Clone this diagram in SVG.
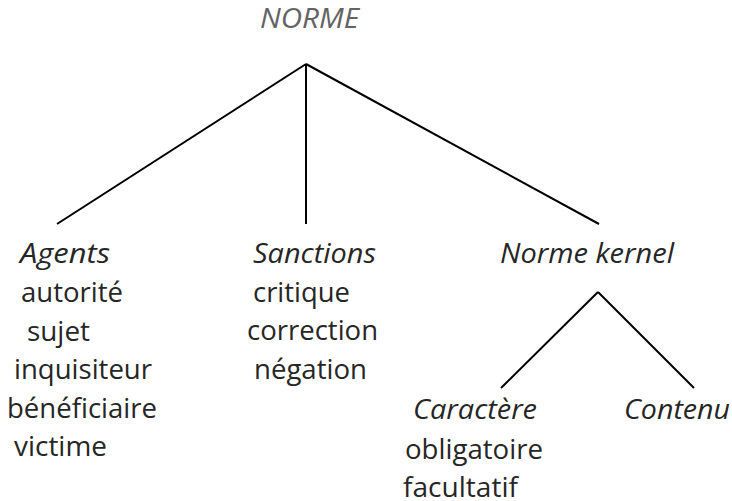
<svg xmlns="http://www.w3.org/2000/svg" width="732" height="501" viewBox="0 0 732 501">
<style>
text{font-family:"Open Sans","Noto Sans","Liberation Sans",sans-serif;font-size:28px;fill:#262626}
.it{font-style:italic}
.gray{fill:#636363}
.edge{stroke:#000;stroke-width:2;fill:none}
</style>
<rect width="732" height="501" fill="#fff"/>
<g id="connectors">
<line class="edge" x1="306" y1="64" x2="57" y2="224"/>
<line class="edge" x1="306" y1="64" x2="306" y2="224"/>
<line class="edge" x1="306" y1="64" x2="599" y2="224"/>
<line class="edge" x1="598" y1="292" x2="501" y2="388"/>
<line class="edge" x1="598" y1="292" x2="694" y2="388"/>
</g>
<g id="norme">
<text class="it gray" x="260" y="28" textLength="99" lengthAdjust="spacingAndGlyphs">NORME</text>
</g>
<g id="agents">
<text class="it" x="20" y="263" textLength="90" lengthAdjust="spacingAndGlyphs">Agents</text>
<text x="21" y="302" textLength="102" lengthAdjust="spacingAndGlyphs">autorité</text>
<text x="27" y="341" textLength="63" lengthAdjust="spacingAndGlyphs">sujet</text>
<text x="14" y="379" textLength="138" lengthAdjust="spacingAndGlyphs">inquisiteur</text>
<text x="7" y="418" textLength="150" lengthAdjust="spacingAndGlyphs">bénéficiaire</text>
<text x="14" y="456" textLength="93" lengthAdjust="spacingAndGlyphs">victime</text>
</g>
<g id="sanctions">
<text class="it" x="253" y="263" textLength="123" lengthAdjust="spacingAndGlyphs">Sanctions</text>
<text x="253" y="302" textLength="97" lengthAdjust="spacingAndGlyphs">critique</text>
<text x="247" y="340" textLength="131" lengthAdjust="spacingAndGlyphs">correction</text>
<text x="254" y="379" textLength="113" lengthAdjust="spacingAndGlyphs">négation</text>
</g>
<g id="norme-kernel">
<text class="it" x="500" y="263" textLength="174" lengthAdjust="spacingAndGlyphs">Norme kernel</text>
</g>
<g id="caractere">
<text class="it" x="413" y="419" textLength="124" lengthAdjust="spacingAndGlyphs">Caractère</text>
<text x="405" y="459" textLength="138" lengthAdjust="spacingAndGlyphs">obligatoire</text>
<text x="403" y="497" textLength="115" lengthAdjust="spacingAndGlyphs">facultatif</text>
</g>
<g id="contenu">
<text class="it" x="624" y="419" textLength="106" lengthAdjust="spacingAndGlyphs">Contenu</text>
</g>
</svg>
